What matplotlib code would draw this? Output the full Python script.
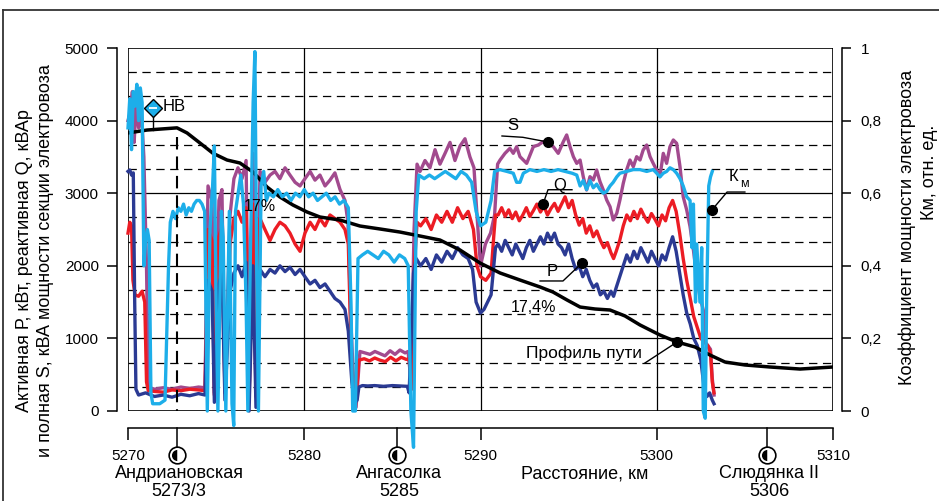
import matplotlib
matplotlib.use("Agg")
import matplotlib.pyplot as plt
import matplotlib.transforms as mtransforms
from matplotlib.patches import Rectangle
from matplotlib.lines import Line2D

plt.rcParams['font.family'] = ['Liberation Sans', 'DejaVu Sans']
plt.rcParams['lines.scale_dashes'] = False

# ---------------- data ----------------
s_km = [5270.0, 5270.12, 5270.25, 5270.35, 5270.45, 5270.6, 5270.75, 5270.9, 5271.05, 5271.15,
        5271.5, 5272.0, 5272.5, 5273.0, 5273.5, 5274.0, 5274.37,
        5274.54, 5274.77, 5274.9, 5275.16, 5275.33, 5275.5, 5275.79, 5276.01, 5276.24, 5276.47,
        5276.7, 5276.87, 5277.09, 5277.26, 5277.49, 5277.77,
        5278.06, 5278.34, 5278.62, 5278.91, 5279.19, 5279.48, 5279.76, 5280.04, 5280.33, 5280.61,
        5280.89, 5281.18, 5281.46, 5281.74, 5282.03, 5282.31, 5282.48, 5282.65, 5282.82, 5282.94,
        5283.16, 5283.45, 5283.73, 5284.01, 5284.3, 5284.58, 5284.87, 5285.15, 5285.43, 5285.72,
        5285.89, 5286.06, 5286.23, 5286.4,
        5286.57, 5286.85, 5287.13, 5287.42, 5287.7, 5287.99, 5288.27, 5288.55, 5288.84, 5289.12,
        5289.4, 5289.63, 5289.8, 5290.0, 5290.28, 5290.57, 5290.8, 5290.97,
        5291.11, 5291.39, 5291.67, 5291.86, 5292.05, 5292.24, 5292.43, 5292.62, 5292.81, 5293.0,
        5293.28, 5293.56, 5293.85, 5294.13, 5294.41, 5294.7, 5294.89, 5295.08, 5295.27, 5295.46,
        5295.65, 5295.83, 5296.02, 5296.21, 5296.4, 5296.59, 5296.78, 5296.97, 5297.16, 5297.35,
        5297.53, 5297.73, 5297.91, 5298.1, 5298.29, 5298.48, 5298.67, 5298.86, 5299.05, 5299.23,
        5299.43, 5299.62, 5299.8, 5299.99, 5300.18, 5300.37, 5300.56, 5300.75, 5300.94, 5301.13,
        5301.32, 5301.5, 5301.7, 5301.89, 5302.08, 5302.27, 5302.45, 5302.64, 5302.75, 5302.9,
        5303.05, 5303.15, 5303.25]
s_kw = [4000, 4100, 4400, 3700, 4200, 3900, 4150, 3500, 2000, 330,
        300, 320, 300, 330, 310, 330, 320,
        3100, 2900, 250, 2900, 3050, 280, 2700, 3200, 3350, 3200,
        3450, 150, 3550, 250, 3300, 3150,
        3250, 3300, 3200, 3350, 3250, 3150, 3100, 3200, 3300, 3180,
        3250, 3100, 3180, 3280, 3050, 2900, 2600, 1200, 300, 50,
        820, 800, 780, 820, 790, 760, 830, 780, 840, 800,
        820, 400, 2500, 3400,
        3300, 3450, 3350, 3600, 3400, 3550, 3700, 3450, 3650, 3750,
        3500, 3350, 2700, 2000, 2300, 2450, 2700, 3400,
        3457, 3549, 3618, 3549, 3641, 3503, 3457, 3411, 3526, 3641,
        3664, 3710, 3687, 3641, 3549, 3710, 3802, 3641, 3503, 3411,
        3457, 3228, 3044, 3228, 3182, 3320, 3159, 3044, 2906, 2814,
        2631, 2722, 2906, 3136, 3320, 3457, 3365, 3503, 3457, 3595,
        3664, 3503, 3411, 3320, 3228, 3549, 3411, 3641, 3733, 3687,
        3365, 2952, 2768, 2539, 2217, 1850, 1575, 1391, 950, 900,
        850, 450, 220]

q_km = [5270.0, 5270.1, 5270.2, 5270.28, 5270.4, 5270.6, 5270.8, 5270.95, 5271.05, 5271.15,
        5271.5, 5272.0, 5272.5, 5273.0, 5273.5, 5274.0, 5274.37,
        5274.54, 5274.77, 5274.9, 5275.16, 5275.33, 5275.5, 5275.79, 5276.01, 5276.24, 5276.47,
        5276.7, 5276.87, 5277.09, 5277.26, 5277.49, 5277.77,
        5278.06, 5278.34, 5278.62, 5278.91, 5279.19, 5279.48, 5279.76, 5280.04, 5280.33, 5280.61,
        5280.89, 5281.18, 5281.46, 5281.74, 5282.03, 5282.31, 5282.5, 5282.65, 5282.8, 5282.9,
        5283.1, 5283.4, 5283.7, 5284.0, 5284.3, 5284.6, 5284.9, 5285.2, 5285.5, 5285.8,
        5285.95, 5286.1, 5286.25, 5286.4,
        5286.6, 5286.9, 5287.2, 5287.5, 5287.8, 5288.1, 5288.4, 5288.7, 5289.0, 5289.3,
        5289.6, 5289.8, 5290.0, 5290.3, 5290.6, 5290.75, 5290.85,
        5291.0, 5291.2, 5291.4, 5291.6, 5291.8, 5292.0, 5292.2, 5292.4, 5292.6, 5292.8,
        5293.0, 5293.2, 5293.4, 5293.6, 5293.8, 5294.0, 5294.2, 5294.4, 5294.6, 5294.8,
        5295.0, 5295.2, 5295.4, 5295.6, 5295.8, 5296.0, 5296.2, 5296.4, 5296.6, 5296.8,
        5297.0, 5297.2, 5297.4, 5297.55, 5297.7, 5297.9, 5298.1, 5298.3, 5298.5, 5298.7,
        5298.9, 5299.1, 5299.3, 5299.5, 5299.7, 5299.9, 5300.1, 5300.3, 5300.5, 5300.7,
        5300.9, 5301.1, 5301.3, 5301.5, 5301.7, 5301.9, 5302.1, 5302.3, 5302.5, 5302.7,
        5302.9, 5303.05, 5303.15, 5303.25]
q_kw = [2450, 2600, 2550, 1800, 1600, 1580, 1650, 1500, 400, 280,
        270, 260, 290, 280, 300, 290, 280,
        2500, 2350, 220, 2400, 2550, 250, 2300, 2650, 2750, 2600,
        2800, 120, 2850, 200, 2650, 2500,
        2350, 2500, 2600, 2550, 2450, 2300, 2200, 2450, 2600, 2500,
        2650, 2550, 2700, 2650, 2600, 2500, 2300, 900, 250, 50,
        700, 720, 690, 730, 700, 680, 740, 690, 740, 710,
        720, 300, 2000, 2600,
        2550, 2650, 2500, 2700, 2600, 2750, 2600, 2800, 2650, 2750,
        2500, 2000, 1850, 1800, 1900, 2400, 2700,
        2700, 2800, 2680, 2770, 2650, 2740, 2620, 2700, 2800, 2680,
        2760, 2850, 2740, 2820, 2700, 2790, 2860, 2750, 2850, 2950,
        2800, 2900, 2700, 2560, 2650, 2450, 2550, 2400, 2480, 2350,
        2250, 2320, 2180, 2100, 2200, 2350, 2550, 2700, 2620, 2750,
        2650, 2780, 2680, 2600, 2720, 2640, 2550, 2700, 2620, 2800,
        2900, 2750, 2450, 2100, 1800, 1550, 1300, 1150, 1000, 950,
        900, 800, 400, 250]

p_km = [5270.0, 5270.1, 5270.2, 5270.3, 5270.38, 5270.45, 5270.6,
        5271.0, 5271.5, 5272.0, 5272.5, 5273.0, 5273.5, 5274.0, 5274.37,
        5274.54, 5274.77, 5274.9, 5275.16, 5275.33, 5275.5, 5275.79, 5276.01, 5276.24, 5276.47,
        5276.7, 5276.87, 5277.09, 5277.26, 5277.49, 5277.77,
        5278.06, 5278.34, 5278.62, 5278.91, 5279.19, 5279.48, 5279.76, 5280.04, 5280.33, 5280.61,
        5280.89, 5281.18, 5281.46, 5281.74, 5282.03, 5282.31, 5282.5, 5282.7, 5282.85,
        5283.0, 5283.1, 5283.3, 5283.6, 5284.0, 5284.5, 5285.0, 5285.5, 5285.85, 5285.95,
        5286.1, 5286.2, 5286.35,
        5286.6, 5286.9, 5287.2, 5287.5, 5287.8, 5288.1, 5288.4, 5288.7, 5289.0, 5289.3,
        5289.55, 5289.75, 5290.0, 5290.2, 5290.4, 5290.6, 5290.75, 5290.85,
        5291.0, 5291.2, 5291.4, 5291.6, 5291.8, 5292.0, 5292.2, 5292.4, 5292.6, 5292.8,
        5293.0, 5293.2, 5293.4, 5293.6, 5293.8, 5294.0, 5294.2, 5294.4, 5294.6, 5294.8,
        5295.0, 5295.2, 5295.4, 5295.6, 5295.8, 5296.0, 5296.2, 5296.4, 5296.6, 5296.8,
        5297.0, 5297.2, 5297.4, 5297.55, 5297.7, 5297.9, 5298.1, 5298.3, 5298.5, 5298.7,
        5298.9, 5299.1, 5299.3, 5299.5, 5299.7, 5299.9, 5300.1, 5300.3, 5300.5, 5300.7,
        5300.9, 5301.1, 5301.3, 5301.5, 5301.7, 5301.9, 5302.1, 5302.3, 5302.5, 5302.7,
        5302.85, 5303.0, 5303.15, 5303.25]
p_kw = [3300, 3320, 3250, 3280, 1500, 300, 220,
        250, 200, 220, 190, 230, 210, 240, 220,
        1800, 1650, 120, 1750, 1900, 150, 1650, 1900, 2000, 1850,
        2050, 0, 2000, 50, 1950, 1850,
        1950, 1900, 2000, 1920, 1980, 1880, 1950, 1850, 1750, 1800,
        1700, 1750, 1650, 1550, 1500, 1400, 1100, 400, 100,
        150, 330, 350, 345, 350, 340, 350, 345, 340, 250,
        1200, 1900, 2100,
        2000, 2100, 1950, 2150, 2050, 2200, 2100, 2250, 2150, 2100,
        1950, 1500, 1350, 1400, 1500, 1600, 2000, 2250,
        2300, 2200, 2350, 2250, 2150, 2300, 2200, 2100, 2250, 2350,
        2200, 2300, 2400, 2300, 2450, 2350, 2450, 2300, 2250, 2150,
        2300, 2100, 1950, 2000, 1850, 1950, 1800, 1700, 1750, 1600,
        1650, 1550, 1650, 1580, 1700, 1850, 2000, 2150, 2050, 2200,
        2100, 2250, 2150, 2050, 2200, 2100, 2000, 2150, 2080, 2250,
        2400, 2200, 1900, 1600, 1350, 1200, 1000, 900, 700, 300,
        200, 250, 150, 100]

km_km = [5270.0, 5270.1, 5270.2, 5270.3, 5270.4, 5270.5, 5270.6, 5270.7, 5270.8, 5270.9,
         5271.0, 5271.1, 5271.2, 5271.3, 5271.4, 5271.8, 5272.1, 5272.3, 5272.4, 5272.55,
         5272.7, 5272.85, 5273.0, 5273.15, 5273.3, 5273.45, 5273.6, 5273.75, 5273.9, 5274.05,
         5274.2, 5274.35, 5274.5, 5274.65, 5274.8, 5274.9, 5275.0, 5275.1, 5275.3, 5275.4,
         5275.55, 5275.75, 5275.9, 5276.0, 5276.1, 5276.25, 5276.4, 5276.55, 5276.7, 5276.8,
         5276.95, 5277.1, 5277.2, 5277.3, 5277.4, 5277.55, 5277.7, 5277.85,
         5278.0, 5278.25, 5278.5, 5278.75, 5279.0, 5279.25, 5279.5, 5279.75, 5280.0, 5280.25,
         5280.5, 5280.75, 5281.0, 5281.25, 5281.5, 5281.75, 5282.0, 5282.25, 5282.5, 5282.65,
         5282.75, 5282.9, 5283.05, 5283.3, 5283.6, 5283.9, 5284.2, 5284.5, 5284.8, 5285.1,
         5285.4, 5285.7, 5285.9, 5286.05, 5286.2, 5286.35, 5286.5, 5286.8, 5287.1, 5287.4,
         5287.7, 5288.0, 5288.3, 5288.6, 5288.9, 5289.2, 5289.5, 5289.75, 5290.0, 5290.3,
         5290.6, 5290.8, 5291.1, 5291.5, 5291.86, 5292.05, 5292.24, 5292.43, 5292.8, 5293.2,
         5293.6, 5294.0, 5294.4, 5294.8, 5295.2, 5295.46, 5295.65, 5295.83, 5296.02, 5296.21,
         5296.4, 5296.59, 5296.78, 5296.97, 5297.16, 5297.35, 5297.53, 5297.73, 5297.91, 5298.29,
         5298.67, 5299.05, 5299.43, 5299.8, 5300.0, 5300.18, 5300.37, 5300.56, 5300.75, 5300.94,
         5301.13, 5301.32, 5301.5, 5301.7, 5301.89, 5302.0, 5302.08, 5302.2, 5302.27, 5302.45,
         5302.55, 5302.64, 5302.75, 5302.83, 5302.95, 5303.05, 5303.15]
km_val = [0.78, 0.86, 0.72, 0.88, 0.84, 0.90, 0.80, 0.89, 0.85, 0.40,
          0.47, 0.50, 0.47, 0.05, 0.02, 0.02, 0.03, 0.40, 0.52, 0.55,
          0.53, 0.56, 0.55, 0.57, 0.54, 0.56, 0.55, 0.57, 0.58, 0.58,
          0.57, 0.55, 0.00, 0.50, 0.62, 0.73, 0.30, 0.00, 0.55, 0.48,
          0.00, 0.55, 0.02, -0.04, 0.55, 0.60, 0.65, 0.57, 0.30, 0.00,
          0.45, 0.85, 0.99, 0.40, 0.00, 0.62, 0.66, 0.58,
          0.60, 0.59, 0.61, 0.59, 0.60, 0.58, 0.60, 0.59, 0.61, 0.59,
          0.60, 0.58, 0.59, 0.60, 0.58, 0.59, 0.57, 0.58, 0.56, 0.30,
          0.00, 0.00, 0.42, 0.43, 0.44, 0.43, 0.42, 0.44, 0.43, 0.41,
          0.43, 0.42, 0.40, 0.00, -0.10, 0.55, 0.65, 0.64, 0.65, 0.64,
          0.65, 0.66, 0.65, 0.64, 0.66, 0.65, 0.63, 0.55, 0.51, 0.52,
          0.58, 0.66, 0.665, 0.66, 0.655, 0.63, 0.63, 0.655, 0.665, 0.66,
          0.665, 0.66, 0.665, 0.66, 0.655, 0.65, 0.62, 0.635, 0.61, 0.635,
          0.615, 0.625, 0.61, 0.60, 0.605, 0.62, 0.63, 0.645, 0.655, 0.66,
          0.665, 0.665, 0.66, 0.665, 0.655, 0.645, 0.655, 0.66, 0.67, 0.665,
          0.655, 0.64, 0.62, 0.59, 0.58, 0.45, 0.57, 0.30, 0.46, 0.30,
          0.45, 0.00, -0.02, 0.30, 0.62, 0.645, 0.66]

prof_km = [5270.0, 5271.08, 5272.78, 5273.35, 5274.09, 5274.82, 5275.62, 5276.35, 5277.09, 5277.89,
           5278.62, 5279.36, 5280.16, 5280.89, 5282.03, 5283.16, 5284.3, 5285.43, 5286.57, 5287.7,
           5288.84, 5289.97, 5291.11, 5292.24, 5293.38, 5294.11, 5294.91, 5295.65, 5296.5, 5297.35,
           5298.2, 5299.05, 5300.18, 5301.15, 5302.17, 5303.02, 5303.87, 5305.0, 5306.43, 5308.13,
           5310.0]
prof_val = [3830, 3870, 3900, 3830, 3690, 3550, 3457, 3416, 3292, 3085,
            2948, 2837, 2741, 2672, 2630, 2548, 2507, 2465, 2410, 2355,
            2217, 2039, 1901, 1804, 1708, 1639, 1529, 1432, 1405, 1391,
            1309, 1185, 1047, 950, 882, 771, 675, 634, 606, 578,
            606]

x_ticks = [5270, 5280, 5290, 5300, 5310]
y_ticks = [0, 1000, 2000, 3000, 4000, 5000]
k_ticks = [0, 0.2, 0.4, 0.6, 0.8, 1.0]
k_labels = ['0', '0,2', '0,4', '0,6', '0,8', '1']
stations_km = [5272.78, 5285.26, 5306.26]
stations_name = ['Андриановская', 'Ангасолка', 'Слюдянка II']
stations_code = ['5273/3', '5285', '5306']

# ---------------- figure ----------------
W, H = 939, 501
fig = plt.figure(figsize=(W / 100, H / 100), dpi=100)


def fx(px):
    return px / W


def fy(py):
    return 1 - py / H


ax = fig.add_axes([fx(128), fy(411), 705 / W, 363 / H])
ax.set_xlim(5270, 5310)
ax.set_ylim(0, 5000)
ax.patch.set_visible(False)

# grid
for k in range(5):
    for frac in (1 / 3, 2 / 3):
        ax.axhline(k * 1000 + frac * 1000, color='black', lw=0.9, ls=(0, (6, 4)), zorder=1)
for v in (1000, 2000, 3000, 4000):
    ax.axhline(v, color='black', lw=0.9, zorder=1)
for v in (5280, 5290, 5300):
    ax.axvline(v, color='black', lw=0.9, zorder=1)
ax.add_patch(Rectangle((0, 0), 1, 1, transform=ax.transAxes, fill=False,
                       lw=1.2, edgecolor='black', zorder=1.5))

for sp in ('top', 'right'):
    ax.spines[sp].set_visible(False)
ax.spines['left'].set_position(('outward', 8))
ax.spines['bottom'].set_position(('outward', 12.5))
ax.spines['left'].set_linewidth(1.1)
ax.spines['bottom'].set_linewidth(1.1)
ax.set_yticks(y_ticks)
ax.set_yticklabels([str(v) for v in y_ticks])
ax.set_xticks(x_ticks)
ax.set_xticklabels([str(v) for v in x_ticks])
ax.tick_params(axis='y', direction='out', length=7, width=1.1, pad=6, labelsize=11)
ax.tick_params(axis='x', direction='out', length=8.5, width=1.1, pad=6, labelsize=11)

# series
lw = 2.4
ax.plot(s_km, s_kw, color='#a24a8e', lw=lw, zorder=3, solid_joinstyle='round', clip_on=False)
ax.plot(q_km, q_kw, color='#ec1c24', lw=lw, zorder=3.1, solid_joinstyle='round', clip_on=False)
ax.plot(p_km, p_kw, color='#2b3a93', lw=lw, zorder=3.2, solid_joinstyle='round', clip_on=False)
ax.plot(prof_km, prof_val, color='black', lw=2.5, zorder=3.3, solid_joinstyle='round')

ax2 = ax.twinx()
ax2.set_ylim(0, 1)
for sp in ('top', 'left', 'bottom'):
    ax2.spines[sp].set_visible(False)
ax2.spines['right'].set_position(('outward', 6.5))
ax2.spines['right'].set_linewidth(1.1)
ax2.set_yticks(k_ticks)
ax2.set_yticklabels(k_labels)
ax2.tick_params(axis='y', direction='out', length=6.5, width=1.1, pad=7, labelsize=11)
ax2.plot(km_km, km_val, color='#1daee9', lw=lw, zorder=4, solid_joinstyle='round', clip_on=False)

# annotations (in left-axis data units)
ax3 = fig.add_axes(ax.get_position(), sharex=ax, frameon=False)
ax3.set_ylim(0, 5000)
ax3.set_xlim(5270, 5310)
ax3.axis('off')
# HB marker
ax3.plot([5271.42, 5271.42], [4076, 3870], color='black', lw=1.0, zorder=5)
ax3.plot([5271.42], [4173], marker='D', ms=9, mfc='#1daee9', mec='black', mew=1.0, zorder=6)
ax3.plot([5271.42], [4173], marker='_', ms=6, mec='white', mew=1.3, zorder=7)
ax3.text(5271.95, 4200, 'НВ', fontsize=12, ha='left', va='center')
# station dashed line
ax3.plot([5272.78, 5272.78], [3774, 0], color='black', lw=1.5, ls=(0, (9, 5)), zorder=5)
# percent labels
ax3.text(5277.49, 2810, '17%', fontsize=11.5, ha='center', va='center', zorder=8)
ax3.text(5292.98, 1432, '17,4%', fontsize=11.5, ha='center', va='center', zorder=8)
# S
ax3.plot([5291.22, 5292.4, 5293.83], [3788, 3770, 3705], color='black', lw=1.0, zorder=8)
ax3.plot([5293.83], [3705], 'o', ms=7, color='black', zorder=9)
ax3.text(5291.84, 3930, 'S', fontsize=12, ha='center', va='center', zorder=8)
# Q
ax3.plot([5295.19, 5293.83, 5293.55], [3048, 3048, 2851], color='black', lw=1.0, zorder=8)
ax3.plot([5293.55], [2851], 'o', ms=7, color='black', zorder=9)
ax3.text(5294.51, 3100, 'Q', fontsize=12, ha='center', va='center', zorder=8)
# P
ax3.plot([5293.38, 5294.68, 5295.76], [1791, 1791, 2039], color='black', lw=1.0, zorder=8)
ax3.plot([5295.76], [2039], 'o', ms=7, color='black', zorder=9)
ax3.text(5294.06, 1920, 'P', fontsize=12, ha='center', va='center', zorder=8)
# Km
ax3.plot([5305.0, 5303.99, 5303.13], [3016, 3016, 2769], color='black', lw=1.0, zorder=8)
ax3.plot([5303.13], [2769], 'o', ms=7, color='black', zorder=9)
ax3.text(5304.1, 3230, 'К', fontsize=12, ha='left', va='center', zorder=8)
ax3.text(5304.75, 3130, 'м', fontsize=9, ha='left', va='center', zorder=8)
# profile label
ax3.plot([5299.33, 5301.15], [661, 950], color='black', lw=1.0, zorder=8)
ax3.plot([5301.15], [950], 'o', ms=7, color='black', zorder=9)
ax3.text(5295.87, 800, 'Профиль пути', fontsize=12.5, ha='center', va='center', zorder=8)

# station ticks and symbols under the distance axis
trans = mtransforms.blended_transform_factory(ax.transData, fig.transFigure)
for s in stations_km:
    ax.plot([s, s], [fy(428), fy(450)], color='black', lw=1.1, transform=trans, clip_on=False)
    ax.plot([s], [fy(455)], marker='o', ms=12, mfc='white', mec='black', mew=1.2,
            transform=trans, clip_on=False)
    ax.plot([s], [fy(455)], marker='o', ms=8, fillstyle='left', mfc='black',
            mfcalt='white', mew=0, transform=trans, clip_on=False)
for s, n, c in zip(stations_km, stations_name, stations_code):
    xs = s + 0.12
    ax.text(xs, fy(474), n, transform=trans, ha='center', va='center', fontsize=13)
    ax.text(xs, fy(492), c, transform=trans, ha='center', va='center', fontsize=13)
fig.text(fx(585), fy(474), 'Расстояние, км', ha='center', va='center', fontsize=13)

# axis titles
fig.text(fx(25), fy(261), 'Активная Р, кВт, реактивная Q, кВАр', rotation=90,
         ha='center', va='center', fontsize=13)
fig.text(fx(46), fy(261), 'и полная S, кВА мощности секции электровоза', rotation=90,
         ha='center', va='center', fontsize=13)
fig.text(fx(907), fy(227), 'Коэффициент мощности электровоза', rotation=90,
         ha='center', va='center', fontsize=13)
fig.text(fx(930), fy(172), 'Км, отн. ед.', rotation=90,
         ha='center', va='center', fontsize=13)

# outer frame
fig.add_artist(Line2D([fx(3), 1.0], [fy(10), fy(10)], color='#333333', lw=1.3))
fig.add_artist(Line2D([fx(3), fx(3)], [fy(10), 0.0], color='#333333', lw=1.3))

fig.savefig('out.png', dpi=100)
